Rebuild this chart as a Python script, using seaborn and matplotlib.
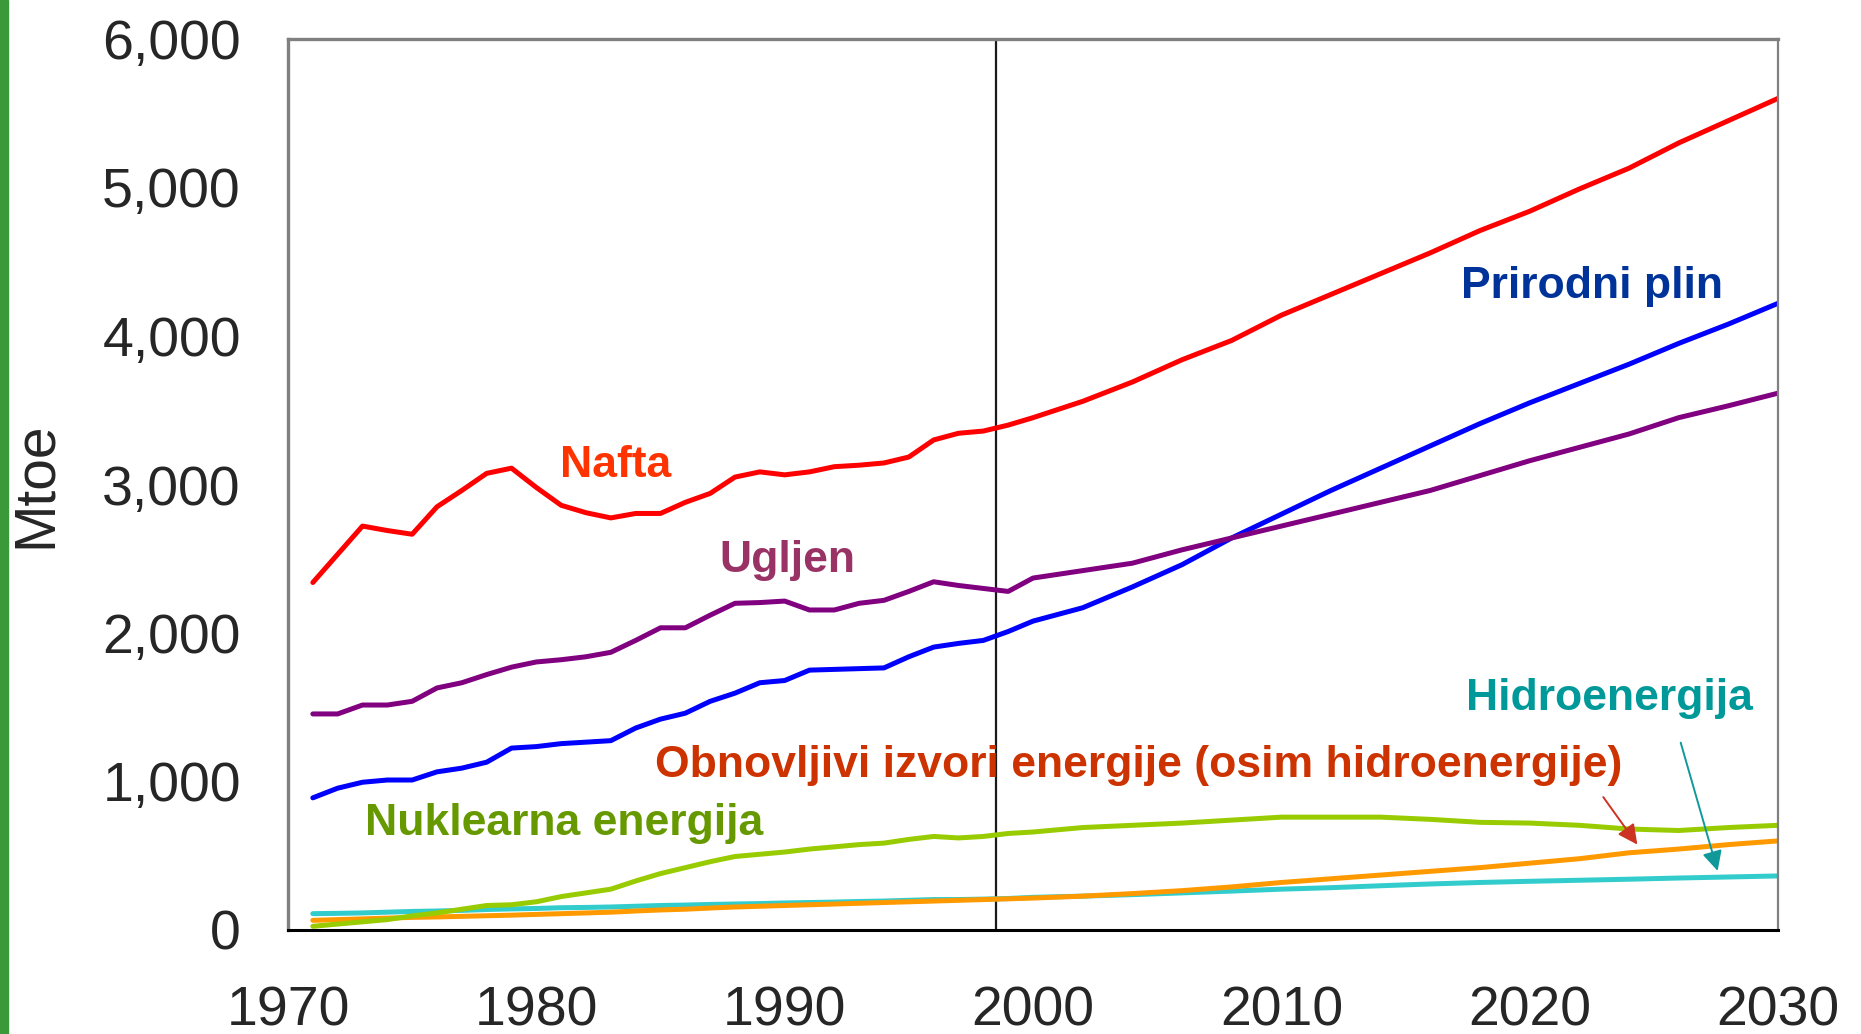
import numpy as np
import pandas as pd
import seaborn as sns
import matplotlib.pyplot as plt

# years: annual history, projections every 2 years
years = list(range(1971, 2001)) + list(range(2002, 2031, 2))

nafta = [2340, 2530, 2720, 2690, 2665, 2850, 2960, 3075, 3110, 2980,
         2860, 2810, 2775, 2805, 2805, 2880, 2940, 3050, 3085, 3065,
         3085, 3120, 3130, 3145, 3185, 3300, 3345, 3360, 3400, 3450,
         3560, 3690, 3840, 3970, 4140, 4280, 4420, 4560, 4710, 4840,
         4990, 5130, 5300, 5450, 5600]
ugljen = [1455, 1455, 1515, 1515, 1540, 1630, 1665, 1720, 1770, 1805,
          1820, 1840, 1870, 1950, 2035, 2035, 2120, 2200, 2205, 2215,
          2155, 2155, 2200, 2220, 2280, 2345, 2320, 2300, 2280, 2370,
          2420, 2470, 2560, 2640, 2720, 2800, 2880, 2960, 3060, 3160,
          3250, 3340, 3450, 3530, 3615]
plin = [890, 955, 995, 1010, 1010, 1065, 1090, 1130, 1225, 1235,
        1255, 1265, 1275, 1360, 1420, 1460, 1540, 1595, 1665, 1680,
        1750, 1755, 1760, 1765, 1840, 1905, 1930, 1950, 2010, 2080,
        2170, 2310, 2460, 2640, 2800, 2960, 3110, 3260, 3410, 3550,
        3680, 3810, 3950, 4080, 4220]
nuklearna = [25, 40, 55, 70, 95, 115, 140, 165, 170, 190,
             225, 250, 275, 330, 380, 420, 460, 495, 510, 525,
             545, 560, 575, 585, 610, 630, 620, 630, 650, 660,
             690, 705, 720, 740, 760, 760, 760, 745, 725, 720,
             705, 680, 670, 690, 705]
obnovljivi = [65, 70, 75, 80, 85, 88, 92, 96, 100, 105,
              110, 115, 120, 128, 135, 140, 148, 155, 160, 165,
              170, 175, 180, 185, 190, 195, 200, 205, 210, 215,
              228, 245, 265, 290, 320, 345, 370, 395, 420, 450,
              480, 520, 545, 575, 600]
hidro = [110, 112, 115, 120, 125, 128, 132, 138, 142, 145,
         150, 152, 155, 160, 165, 168, 172, 175, 178, 182,
         185, 188, 192, 195, 200, 205, 205, 208, 212, 220,
         228, 238, 250, 262, 275, 285, 298, 310, 320, 328,
         335, 342, 350, 357, 364]

xticks = [1970, 1980, 1990, 2000, 2010, 2020, 2030]
yticks = [0, 1000, 2000, 3000, 4000, 5000, 6000]
ytick_labels = ["0", "1,000", "2,000", "3,000", "4,000", "5,000", "6,000"]

series = {
    "Hidroenergija": hidro,
    "Obnovljivi": obnovljivi,
    "Nuklearna energija": nuklearna,
    "Prirodni plin": plin,
    "Ugljen": ugljen,
    "Nafta": nafta,
}
colors = {
    "Hidroenergija": "#33cccc",
    "Obnovljivi": "#ff9900",
    "Nuklearna energija": "#99cc00",
    "Prirodni plin": "#0000ff",
    "Ugljen": "#800080",
    "Nafta": "#ff0000",
}

df = pd.DataFrame([
    {"year": y, "value": v, "izvor": name}
    for name, vals in series.items()
    for y, v in zip(years, vals)
])

sns.set_style("white")
plt.rcParams['font.family'] = ['Liberation Sans', 'DejaVu Sans']
narrow = ['Liberation Sans Narrow', 'Liberation Sans', 'DejaVu Sans']

fig = plt.figure(figsize=(18.61, 10.34), dpi=100)
ax = fig.add_axes([288 / 1861, 1 - 930 / 1034, (1778 - 288) / 1861, (930 - 39) / 1034])

sns.lineplot(data=df, x="year", y="value", hue="izvor", palette=colors,
             linewidth=3.6, legend=False, ax=ax)

ax.axvline(1998.5, color="#1a1a1a", lw=1.6, zorder=1)

ax.set_xlim(1970, 2030)
ax.set_ylim(0, 6000)
ax.set_xticks(xticks)
ax.set_xticklabels([str(t) for t in xticks])
ax.set_yticks(yticks)
ax.set_yticklabels(ytick_labels)
ax.set_xlabel("")
ax.set_ylabel("Mtoe", fontsize=41, labelpad=28)
ax.tick_params(axis="x", labelsize=40, length=16, width=2.2, color="black", pad=24, direction="out")
ax.tick_params(axis="y", labelsize=40, length=16, width=2.2, color="#777777", pad=18, direction="out")

for side in ["top", "left", "right"]:
    ax.spines[side].set_color("#808080")
    ax.spines[side].set_linewidth(2.4)
ax.spines["right"].set_linewidth(1.6)
ax.spines["bottom"].set_color("black")
ax.spines["bottom"].set_linewidth(2.2)

lbl = dict(fontsize=32, fontweight="bold", family=narrow, ha="center", va="center")
ax.text(1983.2, 3130, "Nafta", color="#ff3300", **lbl)
ax.text(1990.1, 2485, "Ugljen", color="#993366", **lbl)
ax.text(2022.5, 4330, "Prirodni plin", color="#003399", **lbl)
ax.text(2023.2, 1560, "Hidroenergija", color="#009999", **lbl)
ax.text(2004.25, 1110, "Obnovljivi izvori energije (osim hidroenergije)", color="#cc3300", **lbl)
ax.text(1981.1, 720, "Nuklearna energija", color="#669900", **lbl)

ax.annotate("", xy=(2024.4, 560), xytext=(2022.9, 910),
            arrowprops=dict(arrowstyle="-|>", color="#cc3322", lw=1.4, mutation_scale=30))
ax.annotate("", xy=(2027.6, 380), xytext=(2026.05, 1280),
            arrowprops=dict(arrowstyle="-|>", color="#119999", lw=1.4, mutation_scale=30))

# green bar on the left edge
fig.patches.append(plt.Rectangle((0, 0), 8 / 1861, 1, transform=fig.transFigure,
                                 color="#3a9a3a", zorder=0))

fig.savefig("out.png", dpi=100)
